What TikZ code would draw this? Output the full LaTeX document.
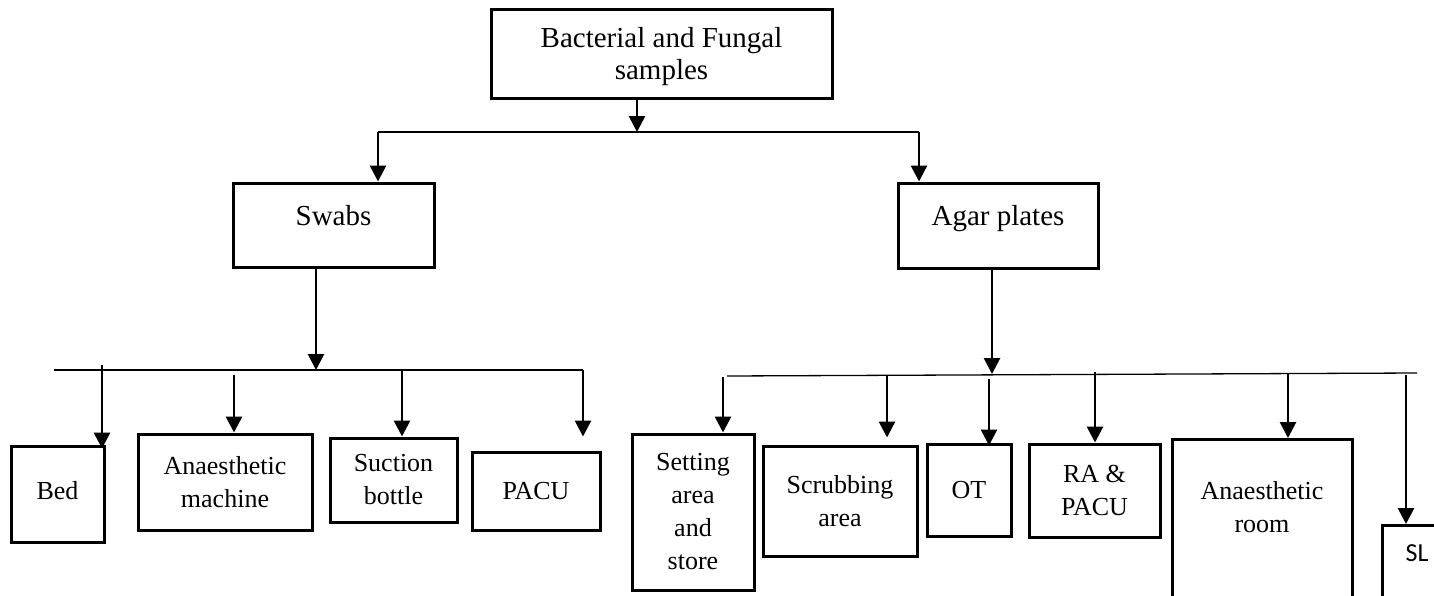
\documentclass[tikz,border=0pt]{standalone}
\usepackage{fontspec}
\setmainfont{Liberation Serif}
\newfontfamily\slfont{Carlito}
\usetikzlibrary{arrows.meta, positioning}
\tikzset{
  every picture/.style={x=1pt, y=-1pt},
  box/.style 2 args={draw, line width=3pt, minimum width=#1, minimum height=#2, align=center, inner sep=2pt, font=\fontsize{26}{33}\selectfont},
  big/.style={font=\fontsize{29}{32}\selectfont},
  arr/.style={-{Triangle[length=16pt, width=16pt]}, line width=2.8pt},
  bus/.style={line width=1.3pt},
}

\begin{document}
\begin{tikzpicture}
  \useasboundingbox (0,0) rectangle (1434,595);
  \clip (0,0) rectangle (1434,595);
  % top level
  \node[box={341}{89}, big, text depth=0pt] (top) at (661.5,53.5) {Bacterial and Fungal\\samples};
  \node[box={201}{84}, big, text depth=20pt] (swabs) at (333.5,225) {Swabs};
  \node[box={200}{85}, big, text depth=20pt] (agar) at (998,225.5) {Agar plates};
  \coordinate (tl) at (378,132);
  \coordinate (tr) at (919,132);
  \coordinate (tm) at (637,132);
  \draw[bus] (tl) -- (tr);
  \draw[arr] (top.south -| tm) -- (tm);
  \draw[arr] (tl) -- (tl |- swabs.north);
  \draw[arr] (tr) -- (tr |- agar.north);
  % swabs
  \node[box={93}{96}, text depth=8pt] (bed) at (57.5,494) {Bed};
  \node[box={174}{96}] (amach) at (225,482) {Anaesthetic\\machine};
  \node[box={127}{84}] (suction) at (393.5,480) {Suction\\bottle};
  \node[box={128}{78}] (pacu) at (536,491) {PACU};
  \coordinate (ll) at (54,370);
  \coordinate (lr) at (583,370);
  \coordinate (lm) at (316,370);
  \draw[bus] (ll) -- (lr);
  \draw[arr] (swabs.south -| lm) -- (lm);
  % agar plates
  \node[box={122}{156}] (setting) at (693,512) {Setting\\area\\and\\store};
  \node[box={154}{110}] (scrub) at (840,501) {Scrubbing\\area};
  \node[box={84}{92}] (ot) at (969,490) {OT};
  \node[box={131}{93}] (rapacu) at (1094.5,490.5) {RA \&\\PACU};
  \node[box={180}{0}, anchor=north, inner ysep=42pt, text depth=120pt] (aroom) at (1262,438) {Anaesthetic\\room};
  \node[box={70}{0}, anchor=north, inner ysep=19pt, text depth=60pt, font=\slfont\fontsize{26}{33}\selectfont] (sl) at (1417,524) {SL};
  \coordinate (rl) at (727,376);
  \coordinate (rr) at (1417,373);
  \coordinate (rm) at (992,374);
  \draw[bus] (rl) -- (rr);
  \draw[arr] (agar.south -| rm) -- (rm);
  % drops to the rooms
  \foreach \x/\y/\n/\d in {102/365/bed/-4, 234/375/amach/0, 402/370/suction/0, 583/370/pacu/14,
      723/377/setting/0, 887/376/scrub/7, 989/379/ot/-3, 1095/372/rapacu/0, 1288/373/aroom/0, 1406/375/sl/0}{
    \coordinate (s-\n) at (\x,\y);
    \draw[arr] (s-\n) -- ([yshift=\d pt]s-\n |- \n.north);
  }
\end{tikzpicture}
\end{document}
